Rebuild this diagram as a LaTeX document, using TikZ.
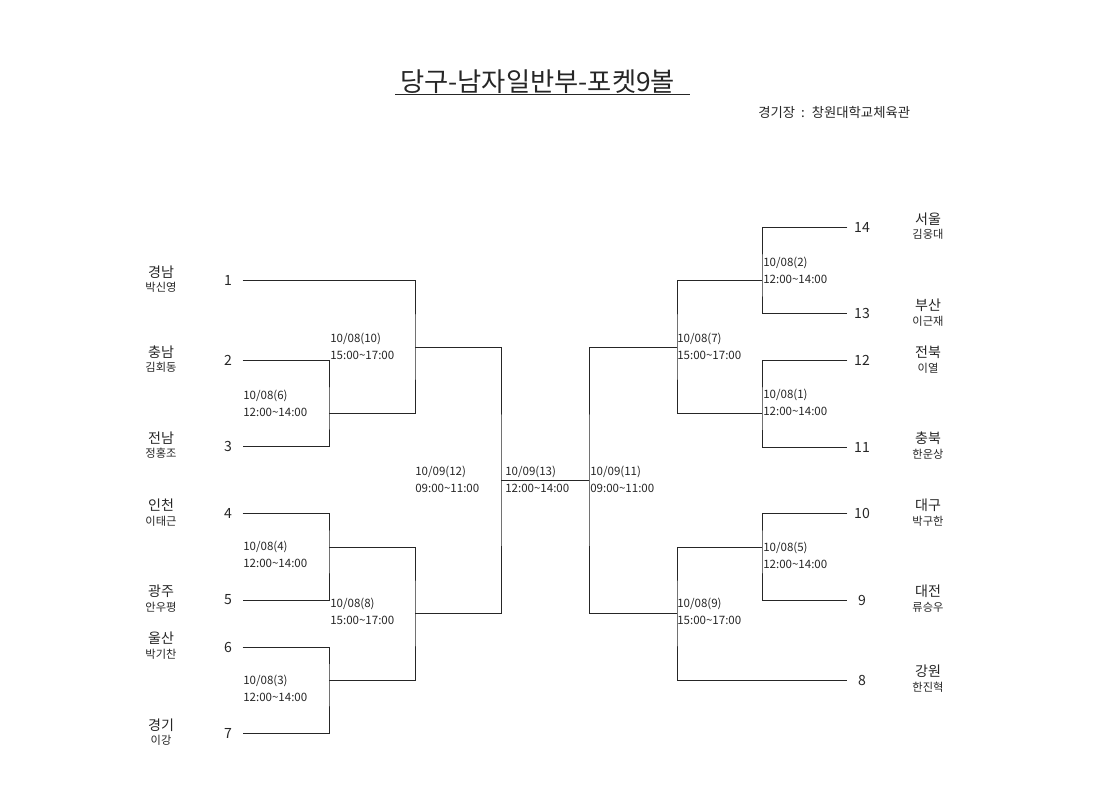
\documentclass[tikz,border=0pt]{standalone}
\usepackage{fontspec}
\setmainfont{Noto Sans CJK KR}

\begin{document}
\begin{tikzpicture}[x=0.025cm, y=-0.025cm, every node/.style={inner sep=0pt, text=black!85}, num/.style={font=\fontsize{10}{12}\selectfont, minimum width=0.72cm}, team/.style={font=\fontsize{10}{12}\selectfont}, player/.style={font=\fontsize{8}{10}\selectfont}, date/.style={anchor=west, align=left, font=\fontsize{8.2}{12}\selectfont}, bracket/.style={line width=0.6pt, black!85}]

\useasboundingbox (0,0) rectangle (1120,792);

\node[anchor=base west, font=\fontsize{18.7}{20}\selectfont] (title) at (400,91) {당구-남자일반부-포켓9볼};
\coordinate (ulstart) at (395,94);
\coordinate (ulend) at (690,94);
\draw[bracket] (ulstart) -- (ulend);
\node[anchor=west, font=\fontsize{9.5}{11}\selectfont] (venue) at (758,112) {경기장 \ : \ 창원대학교체육관};

\node[num] (n1) at (228,280) {1};
\node[num] (n2) at (228,360) {2};
\node[num] (n3) at (228,446) {3};
\node[num] (n4) at (228,513) {4};
\node[num] (n5) at (228,600) {5};
\node[num] (n6) at (228,647) {6};
\node[num] (n7) at (228,733) {7};
\node[num] (n14) at (862,227) {14};
\node[num] (n13) at (862,313) {13};
\node[num] (n12) at (862,360) {12};
\node[num] (n11) at (862,447) {11};
\node[num] (n10) at (862,513) {10};
\node[num] (n9) at (862,600) {9};
\node[num] (n8) at (862,680) {8};

\node[team] (t1) at (161,272) {경남};
\node[player] (p1) at (161,287) {박신영};
\node[team] (t2) at (161,352) {충남};
\node[player] (p2) at (161,367) {김회동};
\node[team] (t3) at (161,438) {전남};
\node[player] (p3) at (161,453) {정홍조};
\node[team] (t4) at (161,505) {인천};
\node[player] (p4) at (161,521) {이태근};
\node[team] (t5) at (161,591) {광주};
\node[player] (p5) at (161,607) {안우평};
\node[team] (t6) at (161,638) {울산};
\node[player] (p6) at (161,654) {박기찬};
\node[team] (t7) at (161,725) {경기};
\node[player] (p7) at (161,740) {이강};
\node[team] (t14) at (928,219) {서울};
\node[player] (p14) at (928,234) {김웅대};
\node[team] (t13) at (928,305) {부산};
\node[player] (p13) at (928,321) {이근재};
\node[team] (t12) at (928,352) {전북};
\node[player] (p12) at (928,368) {이열};
\node[team] (t11) at (928,438) {충북};
\node[player] (p11) at (928,454) {한운상};
\node[team] (t10) at (928,505) {대구};
\node[player] (p10) at (928,521) {박구한};
\node[team] (t9) at (928,591) {대전};
\node[player] (p9) at (928,607) {류승우};
\node[team] (t8) at (928,671) {강원};
\node[player] (p8) at (928,687) {한진혁};

\node[date] (d10) at (330,346) {10/08(10)\\15:00\textasciitilde 17:00};
\node[date] (d6) at (243,403) {10/08(6)\\12:00\textasciitilde 14:00};
\node[date] (d4) at (243,554) {10/08(4)\\12:00\textasciitilde 14:00};
\node[date] (d8) at (330,611) {10/08(8)\\15:00\textasciitilde 17:00};
\node[date] (d3) at (243,688) {10/08(3)\\12:00\textasciitilde 14:00};
\node[date] (d12) at (415,479) {10/09(12)\\09:00\textasciitilde 11:00};
\node[date] (d13) at (505,479) {10/09(13)\\12:00\textasciitilde 14:00};
\node[date] (d11) at (590,479) {10/09(11)\\09:00\textasciitilde 11:00};
\node[date] (d2) at (763,270) {10/08(2)\\12:00\textasciitilde 14:00};
\node[date] (d7) at (677,346) {10/08(7)\\15:00\textasciitilde 17:00};
\node[date] (d1) at (763,402) {10/08(1)\\12:00\textasciitilde 14:00};
\node[date] (d5) at (763,555) {10/08(5)\\12:00\textasciitilde 14:00};
\node[date] (d9) at (677,611) {10/08(9)\\15:00\textasciitilde 17:00};

\coordinate (w6) at (329,413);
\coordinate (w10) at (415,347);
\coordinate (w4) at (329,547);
\coordinate (w3) at (329,680);
\coordinate (w8) at (415,613);
\coordinate (w12) at (501,480);
\coordinate (w11) at (589,480);
\coordinate (w7) at (677,347);
\coordinate (w9) at (677,613);
\coordinate (w2) at (762,280);
\coordinate (w1) at (762,413);
\coordinate (w5) at (762,547);

\draw[bracket] (n2.east) -| (w6) |- (n3.east);
\draw[bracket] (n1.east) -| (w10) |- (w6);
\draw[bracket] (n4.east) -| (w4) |- (n5.east);
\draw[bracket] (n6.east) -| (w3) |- (n7.east);
\draw[bracket] (w4) -| (w8) |- (w3);
\draw[bracket] (w10) -| (w12) |- (w8);
\draw[bracket] (w12) -- (w11);
\draw[bracket] (n14.west) -| (w2) |- (n13.west);
\draw[bracket] (n12.west) -| (w1) |- (n11.west);
\draw[bracket] (n10.west) -| (w5) |- (n9.west);
\draw[bracket] (w2) -| (w7) |- (w1);
\draw[bracket] (w5) -| (w9) |- (n8.west);
\draw[bracket] (w7) -| (w11) |- (w9);

\end{tikzpicture}
\end{document}
